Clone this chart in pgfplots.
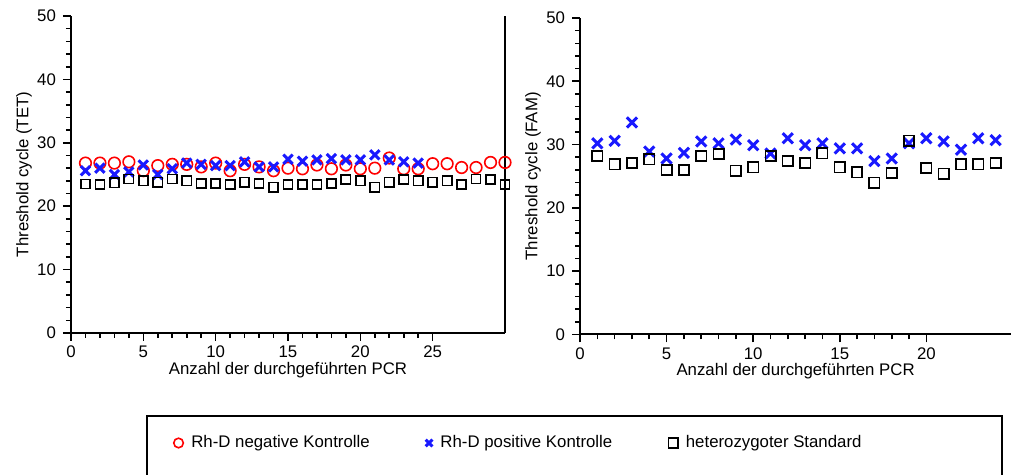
\documentclass[border=0pt]{standalone}
\usepackage{fontspec}
\setmainfont{Liberation Sans}
\usepackage{pgfplots}
\usepackage{pgfplotstable}
\pgfplotsset{compat=1.18}
\definecolor{rdred}{RGB}{255,0,0}
\definecolor{rdblue}{RGB}{25,25,255}

\pgfplotstableread{
x neg pos het
1 26.8 25.6 23.5
2 26.8 26.0 23.4
3 26.8 25.0 23.7
4 27.0 25.4 24.3
5 25.6 26.5 24.0
6 26.4 25.0 23.8
7 26.6 25.9 24.3
8 26.6 26.8 24.0
9 26.2 26.6 23.6
10 26.8 26.4 23.6
11 25.6 26.4 23.4
12 26.6 27.0 23.8
13 26.2 26.2 23.6
14 25.6 26.2 23.0
15 26.0 27.4 23.4
16 25.9 27.1 23.4
17 26.5 27.3 23.4
18 25.9 27.5 23.6
19 26.5 27.3 24.2
20 25.9 27.3 24.0
21 26.0 28.1 23.0
22 27.6 27.3 23.8
23 25.9 27.0 24.2
24 25.9 26.8 24.0
25 26.7 nan 23.8
26 26.7 nan 24.0
27 26.1 nan 23.4
28 26.1 nan 24.3
29 26.9 nan 24.2
30 26.9 nan 23.4
}\lefttab

\pgfplotstableread{
x pos het
1 30.2 28.2
2 30.6 26.9
3 33.5 27.1
4 28.9 27.7
5 27.8 26.0
6 28.7 26.0
7 30.5 28.2
8 30.2 28.5
9 30.8 25.9
10 29.9 26.4
11 28.6 28.2
12 31.0 27.4
13 29.9 27.1
14 30.2 28.6
15 29.4 26.4
16 29.4 25.6
17 27.4 24.0
18 27.8 25.5
19 30.2 30.6
20 31.0 26.3
21 30.5 25.4
22 29.2 26.9
23 31.0 26.9
24 30.7 27.1
}\righttab

\pgfplotsset{
  rdstyle/.style={
    scale only axis,
    clip=false,
    axis x line=bottom, axis y line=left,
    axis line style={-, line width=1pt},
    tick align=outside,
    major tick length=4pt, minor tick length=2.5pt,
    every tick/.style={black, line width=0.8pt},
    ymin=0, ymax=50,
    ytick={0,10,...,50}, minor y tick num=4,
    minor x tick num=4,
    /pgf/number format/assume math mode=true,
    ticklabel style={font=\fontsize{8.4}{10}\selectfont},
    xticklabel style={yshift=1pt},
    label style={font=\fontsize{8.4}{10}\selectfont},
    xlabel style={at={(axis description cs:0.5,0)}, anchor=center, yshift=-18.5pt},
    ylabel style={at={(axis description cs:0,0.5)}, anchor=center, yshift=23.5pt},
    xlabel={Anzahl der durchgeführten PCR},
  },
  negmark/.style={only marks, mark=o, rdred, mark size=2.9pt, mark options={line width=0.8pt, draw=rdred}},
  posmark/.style={only marks, mark=x, rdblue, mark size=3.6pt, mark options={line width=1.5pt, draw=rdblue}},
  hetmark/.style={only marks, mark=square, black, mark size=2.3pt, mark options={line width=0.8pt, draw=black}},
}

\begin{document}
\begin{tikzpicture}
\path[use as bounding box] (0,0) rectangle (505.5pt,237.5pt);

\begin{axis}[rdstyle,
  at={(35.5pt,71pt)}, anchor=south west,
  width=217pt, height=158.5pt,
  xmin=0, xmax=30,
  xtick={0,5,...,25},
  ylabel={Threshold cycle (TET)},
  legend columns=3,
  legend style={at={(axis description cs:0.222,-0.347)}, anchor=west, draw=none, fill=none,
    font=\fontsize{8.4}{10}\selectfont,
    /tikz/every odd column/.append style={column sep=2pt},
    /tikz/every even column/.append style={column sep=26pt}},
  legend image code/.code={\draw[#1, mark size=2.4pt] plot coordinates {(0pt,0pt)};},
]
\addplot[negmark] table[x=x, y=neg] {\lefttab};
\addlegendentry{Rh-D negative Kontrolle}
\addplot[posmark, mark size=3.3pt] table[x=x, y=pos] {\lefttab};
\addlegendentry{Rh-D positive Kontrolle}
\addplot[hetmark] table[x=x, y=het] {\lefttab};
\addlegendentry{heterozygoter Standard}
\draw[line width=1pt] (rel axis cs:1,0) -- (rel axis cs:1,1);
\end{axis}

\begin{axis}[rdstyle,
  at={(290pt,70.25pt)}, anchor=south west,
  width=215.6pt, height=158.25pt,
  xmin=0, xmax=24.9,
  xtick={0,5,...,20},
  ylabel={Threshold cycle (FAM)},
]
\addplot[posmark] table[x=x, y=pos] {\righttab};
\addplot[hetmark, mark size=2.6pt] table[x=x, y=het] {\righttab};
\end{axis}

\draw[line width=0.8pt] (73.5pt,-5pt) rectangle (501pt,29.5pt);
\end{tikzpicture}
\end{document}
